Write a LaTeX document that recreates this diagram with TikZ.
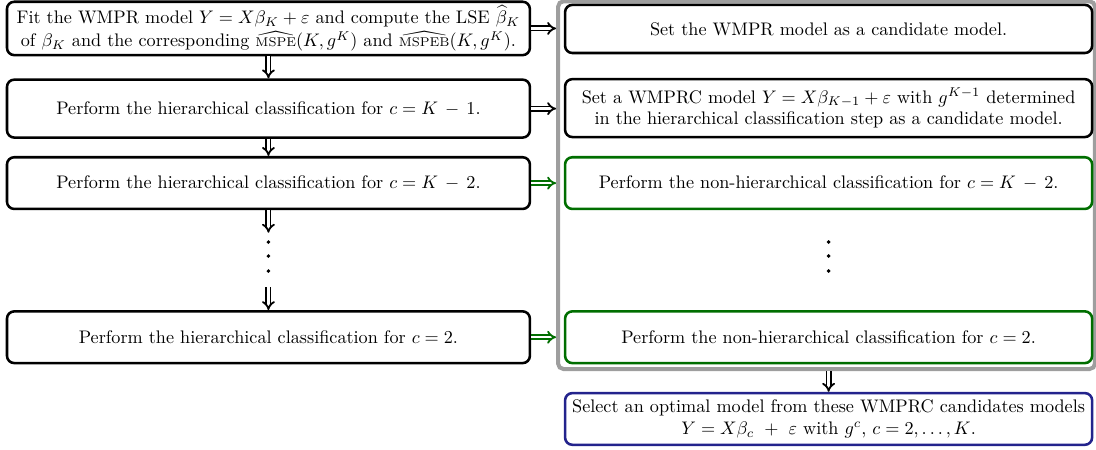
\documentclass[tikz,border=0pt]{standalone}
\usepackage{amsmath}
\usepackage{amssymb}
\usepackage{tikz}
\usepackage{xcolor}
\usetikzlibrary{arrows.meta, positioning}

\definecolor{darkgreen}{RGB}{0,110,0}
\definecolor{navy}{RGB}{35,35,140}

\begin{document}
\begin{tikzpicture}[
  box/.style={draw, rounded corners=4pt, line width=1.4pt, align=center, inner sep=2pt, minimum height=1cm},
  leftbox/.style={box, minimum width=10.11cm},
  rightbox/.style={box, minimum width=10.19cm},
  nhbox/.style={rightbox, draw=darkgreen},
  selbox/.style={rightbox, draw=navy},
  groupbox/.style={draw=black!38, line width=2.2pt, rounded corners=3pt, minimum width=10.38cm, minimum height=7.11cm},
  imp/.style={double, double distance=1.3pt, line width=1pt, -{Implies}},
]
  \useasboundingbox (0,0) rectangle (21.19,-8.70);
  % frame round the candidate models
  \node[groupbox] (group) at (15.98,-3.58) {};
  % left column: fitting and hierarchical steps
  \node[leftbox] (fit) at (5.19,-0.55) {Fit the WMPR model $Y = X\beta_K + \varepsilon$ and compute the LSE $\widehat{\beta}_K$\\[1pt] of $\beta_K$ and the corresponding $\widehat{\mbox{\scriptsize MSPE}}(K,g^K)$ and $\widehat{\mbox{\scriptsize MSPEB}}(K,g^K)$.};
  \node[leftbox, minimum height=1.12cm] (hkm1) at (5.19,-2.10) {Perform the hierarchical classification for $c = K\,-\,1$.};
  \node[leftbox] (hkm2) at (5.19,-3.54) {Perform the hierarchical classification for $c = K\,-\,2$.};
  \node[leftbox] (htwo) at (5.19,-6.52) {Perform the hierarchical classification for $c = 2$.};
  % right column: candidate models
  \node[rightbox, minimum height=0.93cm] (cand) at (16.02,-0.56) {Set the WMPR model as a candidate model.};
  \node[rightbox, minimum height=1.12cm] (candc) at (16.02,-2.09) {Set a WMPRC model $Y = X\beta_{K-1} + \varepsilon$ with $g^{K-1}$ determined\\ in the hierarchical classification step as a candidate model.};
  \node[nhbox] (nhkm2) at (16.02,-3.54) {Perform the non-hierarchical classification for $c = K\,-\,2$.};
  \node[nhbox] (nhtwo) at (16.02,-6.52) {Perform the non-hierarchical classification for $c = 2$.};
  % final selection
  \node[selbox] (select) at (16.02,-8.10) {Select an optimal model from these WMPRC candidates models\\ $Y = X\beta_c\ +\ \varepsilon$ with $g^c$, $c = 2, \dots, K$.};
  % dots
  \foreach \y in {-4.68,-4.95,-5.24} {
    \fill (5.19,\y) circle (0.038);
    \fill (16.02,\y) circle (0.038);
  }
  \coordinate (dtop) at (5.19,-4.50);
  \coordinate (dbot) at (5.19,-5.55);
  % down arrows
  \draw[imp] (fit) -- (hkm1);
  \draw[imp] (hkm1) -- (hkm2);
  \draw[imp] (hkm2) -- (dtop);
  \draw[imp] (dbot) -- (htwo);
  \draw[imp] (select.north |- group.south) -- (select);
  % arrows into the frame
  \draw[imp] (fit.east) -- (fit.east -| group.west);
  \draw[imp] (hkm1.east) -- (hkm1.east -| group.west);
  \draw[imp, darkgreen] (hkm2.east) -- (hkm2.east -| group.west);
  \draw[imp, darkgreen] (htwo.east) -- (htwo.east -| group.west);
\end{tikzpicture}
\end{document}
